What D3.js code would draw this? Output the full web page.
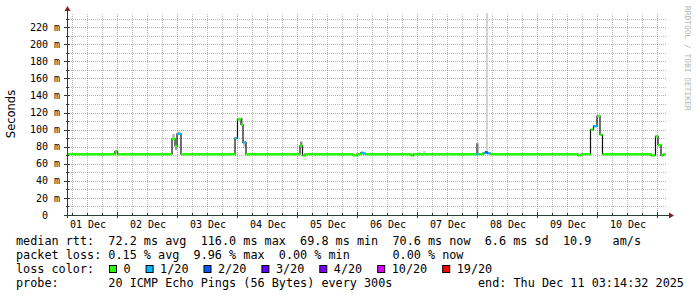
<!DOCTYPE html>
<html>
<head>
<meta charset="utf-8">
<script src="https://cdn.jsdelivr.net/npm/d3@7"></script>
<style>
  body { margin: 0; background: #fff; }
  text { font-family: 'DejaVu Sans Mono', monospace; white-space: pre; }
</style>
</head>
<body>
<svg id="chart" width="697" height="297"></svg>
<script>
// median rtt as steps: start of step, median in ms, lost pings out of 20
let stepTimes = [
  '2025-12-01T04:00', '2025-12-01T23:12', '2025-12-02T00:12',
  '2025-12-02T22:00', '2025-12-02T23:12', '2025-12-03T00:00', '2025-12-03T01:36',
  '2025-12-03T23:12', '2025-12-04T00:12', '2025-12-04T01:36', '2025-12-04T02:24', '2025-12-04T03:36',
  '2025-12-05T01:12', '2025-12-05T02:12', '2025-12-05T03:12',
  '2025-12-05T22:24', '2025-12-06T00:00', '2025-12-06T01:36', '2025-12-06T02:24', '2025-12-06T03:36',
  '2025-12-06T21:36', '2025-12-06T22:36',
  '2025-12-07T23:36', '2025-12-08T00:36', '2025-12-08T02:24', '2025-12-08T03:12', '2025-12-08T04:12', '2025-12-08T05:24',
  '2025-12-09T16:24', '2025-12-09T17:36', '2025-12-09T21:24', '2025-12-09T22:36', '2025-12-10T00:00', '2025-12-10T01:12', '2025-12-10T02:12',
  '2025-12-10T21:36', '2025-12-10T23:24', '2025-12-11T00:24', '2025-12-11T01:36', '2025-12-11T02:36'
]
let medianMs = [
  71.2, 74.5, 71.2,
  89, 81, 95, 71.2,
  90, 112, 106, 85, 71.2,
  81, 69.8, 71.2,
  69.8, 71.2, 73, 72, 71.2,
  69.8, 71.2,
  71.2, 71.2, 72.5, 73.5, 72.2, 71.2,
  69.8, 71.2, 100, 104, 116, 94, 71.2,
  69.8, 92, 82, 69.8, 71
]
let lostPings = [
  0, 0, 0,
  0, 0, 1, 0,
  1, 0, 0, 1, 0,
  0, 0, 0,
  0, 0, 1, 1, 0,
  0, 0,
  1, 0, 1, 2, 1, 0,
  0, 0, 0, 1, 0, 0, 0,
  0, 0, 0, 0, 0
]
let seriesEnd = '2025-12-11T03:36'

// smoke: spread of the single pings
let smokeStart = ['2025-12-02T22:00', '2025-12-02T23:12', '2025-12-03T00:00', '2025-12-04T01:36', '2025-12-04T02:24',
  '2025-12-05T01:12', '2025-12-05T07:48', '2025-12-07T00:00', '2025-12-07T02:24', '2025-12-07T13:12',
  '2025-12-07T23:36', '2025-12-08T03:36']
let smokeEnd = ['2025-12-02T23:12', '2025-12-03T00:00', '2025-12-03T01:24', '2025-12-04T02:24', '2025-12-04T03:36',
  '2025-12-05T02:12', '2025-12-05T08:36', '2025-12-07T01:36', '2025-12-07T03:36', '2025-12-07T14:00',
  '2025-12-08T00:36', '2025-12-08T04:24']
let smokeLow = [89, 76, 95, 106, 80, 81, 71.2, 71.2, 71.2, 71.2, 71.2, 71.2]
let smokeHigh = [95, 81, 98, 114, 85, 86, 72.5, 73.5, 75, 73, 84, 237]
let smokeDensity = [0.25, 0.5, 0.2, 0.4, 0.15, 0.7, 0.1, 0.1, 0.1, 0.1, 0.8, 0.1]

let lossLevels = [0, 1, 2, 3, 4, 10, 19]
let lossColors = ['#26ff00', '#00b8ff', '#0059ff', '#5e00ff', '#7e00ff', '#dd00ff', '#ff0000']
let lossLabels = ['0', '1/20', '2/20', '3/20', '4/20', '10/20', '19/20']

let yTicks = [0, 20, 40, 60, 80, 100, 120, 140, 160, 180, 200, 220]

let legendRtt = 'median rtt:  72.2 ms avg  116.0 ms max  69.8 ms min  70.6 ms now  6.6 ms sd  10.9   am/s'
let legendLoss = 'packet loss: 0.15 % avg  9.96 % max  0.00 % min      0.00 % now'
let legendProbe = 'probe:       20 ICMP Echo Pings (56 Bytes) every 300s'
let legendEnd = 'end: Thu Dec 11 03:14:32 2025'

let parse = d3.utcParse('%Y-%m-%dT%H:%M')

let plotLeft = 67
let plotRight = 667
let plotBottom = 215
let plotTop = 13

let x = d3.scaleUtc()
  .domain([parse('2025-12-01T04:00'), parse('2025-12-11T04:00')])
  .range([plotLeft, plotRight])

let y = d3.scaleLinear()
  .domain([0, 220])
  .range([plotBottom, 27.2])

let svg = d3.select('#chart')
svg.append('rect').attr('width', 697).attr('height', 297).attr('fill', '#fff')

let grid = svg.append('g')
let minorColor = 'rgba(140,140,140,0.6)'
let majorColor = 'rgba(200,70,70,0.55)'

// vertical grid
let [t0, t1] = x.domain()
let hours = d3.utcHour.every(6).range(t0, t1)
grid.selectAll('.vgrid')
  .data(hours)
  .enter()
  .append('line')
  .attr('x1', d => Math.round(x(d)) + 0.5)
  .attr('x2', d => Math.round(x(d)) + 0.5)
  .attr('y1', plotBottom)
  .attr('y2', plotTop)
  .attr('stroke', d => (d.getUTCHours() === 0 ? majorColor : minorColor))
  .attr('stroke-dasharray', '1,1')

// horizontal grid
let levels = d3.range(10, 240, 10).filter(v => y(v) >= plotTop)
grid.selectAll('.hgrid')
  .data(levels)
  .enter()
  .append('line')
  .attr('x1', plotLeft)
  .attr('x2', plotRight)
  .attr('y1', d => Math.round(y(d)) + 0.5)
  .attr('y2', d => Math.round(y(d)) + 0.5)
  .attr('stroke', d => (d % 20 === 0 ? majorColor : minorColor))
  .attr('stroke-dasharray', '1,1')

// smoke
let shade = d3.scaleLinear().domain([0, 1]).range(['#e2e2e2', '#5a5a5a'])
let smoke = smokeStart.map((s, i) => ({
  t0: parse(s), t1: parse(smokeEnd[i]), lo: smokeLow[i], hi: smokeHigh[i], density: smokeDensity[i]
}))
svg.selectAll('.smoke')
  .data(smoke)
  .enter()
  .append('rect')
  .attr('x', d => x(d.t0))
  .attr('width', d => x(d.t1) - x(d.t0))
  .attr('y', d => Math.max(plotTop, y(d.hi)))
  .attr('height', d => y(d.lo) - Math.max(plotTop, y(d.hi)))
  .attr('fill', d => shade(d.density))

// median line
let steps = stepTimes.map((t, i) => ({
  t0: parse(t),
  t1: parse(stepTimes[i + 1] || seriesEnd),
  v: medianMs[i],
  loss: lostPings[i]
}))

let lossColor = n => {
  let idx = d3.bisectRight(lossLevels, n) - 1
  return lossColors[Math.max(0, idx)]
}

let pts = steps.map(d => ({ t: d.t0, v: d.v }))
pts.push({ t: parse(seriesEnd), v: medianMs[medianMs.length - 1] })

let stepLine = d3.line()
  .x(d => x(d.t))
  .y(d => y(d.v))
  .curve(d3.curveStepAfter)

svg.append('path')
  .datum(pts)
  .attr('d', stepLine)
  .attr('fill', 'none')
  .attr('stroke', '#111')
  .attr('stroke-width', 1.2)

svg.selectAll('.median')
  .data(steps)
  .enter()
  .append('line')
  .attr('x1', d => x(d.t0))
  .attr('x2', d => x(d.t1))
  .attr('y1', d => y(d.v))
  .attr('y2', d => y(d.v))
  .attr('stroke', d => lossColor(d.loss))
  .attr('stroke-width', 2.4)

// axes
let axisColor = '#2c3c38'
let arrowColor = '#7f1f1f'

svg.append('line')
  .attr('x1', plotLeft - 3).attr('x2', plotRight + 2)
  .attr('y1', plotBottom + 0.5).attr('y2', plotBottom + 0.5)
  .attr('stroke', axisColor)
svg.append('line')
  .attr('x1', plotLeft + 0.5).attr('x2', plotLeft + 0.5)
  .attr('y1', plotBottom + 3).attr('y2', plotTop - 2)
  .attr('stroke', axisColor)

svg.append('path')
  .attr('d', `M${plotRight + 2},${plotBottom - 2.5} L${plotRight + 7},${plotBottom + 0.5} L${plotRight + 2},${plotBottom + 3.5} Z`)
  .attr('fill', arrowColor)
svg.append('path')
  .attr('d', `M${plotLeft - 2.5},${plotTop - 2} L${plotLeft + 0.5},${plotTop - 7} L${plotLeft + 3.5},${plotTop - 2} Z`)
  .attr('fill', arrowColor)

// ticks on the axes
svg.selectAll('.ytick')
  .data(levels.concat([0]))
  .enter()
  .append('line')
  .attr('x1', d => plotLeft - (d % 20 === 0 ? 3 : 1))
  .attr('x2', d => plotLeft + (d % 20 === 0 ? 3 : 2))
  .attr('y1', d => Math.round(y(d)) + 0.5)
  .attr('y2', d => Math.round(y(d)) + 0.5)
  .attr('stroke', axisColor)

svg.selectAll('.xtick')
  .data(hours)
  .enter()
  .append('line')
  .attr('x1', d => Math.round(x(d)) + 0.5)
  .attr('x2', d => Math.round(x(d)) + 0.5)
  .attr('y1', d => plotBottom - (d.getUTCHours() === 0 ? 3 : 2))
  .attr('y2', d => plotBottom + (d.getUTCHours() === 0 ? 3 : 1))
  .attr('stroke', axisColor)

// y labels
svg.selectAll('.ylabel')
  .data(yTicks)
  .enter()
  .append('text')
  .attr('x', 60)
  .attr('y', d => y(d))
  .attr('dy', '0.36em')
  .attr('text-anchor', 'end')
  .attr('font-size', 10)
  .attr('fill', '#000')
  .text(d => (d === 0 ? '0  ' : `${d} m`))

// x labels, centred on noon
let days = d3.utcDay.range(parse('2025-12-01T00:00'), parse('2025-12-11T00:00'))
svg.selectAll('.xlabel')
  .data(days)
  .enter()
  .append('text')
  .attr('x', d => x(d3.utcHour.offset(d, 12)) + 1)
  .attr('y', 228)
  .attr('text-anchor', 'middle')
  .attr('font-size', 10)
  .text(d3.utcFormat('%d %b'))

svg.append('text')
  .attr('transform', 'translate(15,114) rotate(-90)')
  .attr('text-anchor', 'middle')
  .attr('font-size', 11.5)
  .style('font-family', "'DejaVu Sans', sans-serif")
  .text('Seconds')

svg.append('text')
  .attr('transform', 'translate(685,6) rotate(90)')
  .attr('font-size', 7.9)
  .attr('fill', '#b4b4b4')
  .text('RRDTOOL / TOBI OETIKER')

// legend
let legend = svg.append('g').attr('font-size', 11.8)
legend.append('text').attr('x', 16).attr('y', 245).text(legendRtt)
legend.append('text').attr('x', 16).attr('y', 259).text(legendLoss)
legend.append('text').attr('x', 16).attr('y', 273).text('loss color:')
legend.append('text').attr('x', 16).attr('y', 287).text(legendProbe)
legend.append('text').attr('x', 478).attr('y', 287).text(legendEnd)

let charW = 7.1
let pos = 109
lossLabels.forEach((label, i) => {
  legend.append('rect')
    .attr('x', pos + 0.5)
    .attr('y', 265.5)
    .attr('width', 7)
    .attr('height', 7)
    .attr('fill', lossColors[i])
    .attr('stroke', '#000')
  legend.append('text')
    .attr('x', pos + 14.5)
    .attr('y', 273)
    .text(label)
  pos = pos + 14.5 + label.length * charW + 15
})
</script>
</body>
</html>
